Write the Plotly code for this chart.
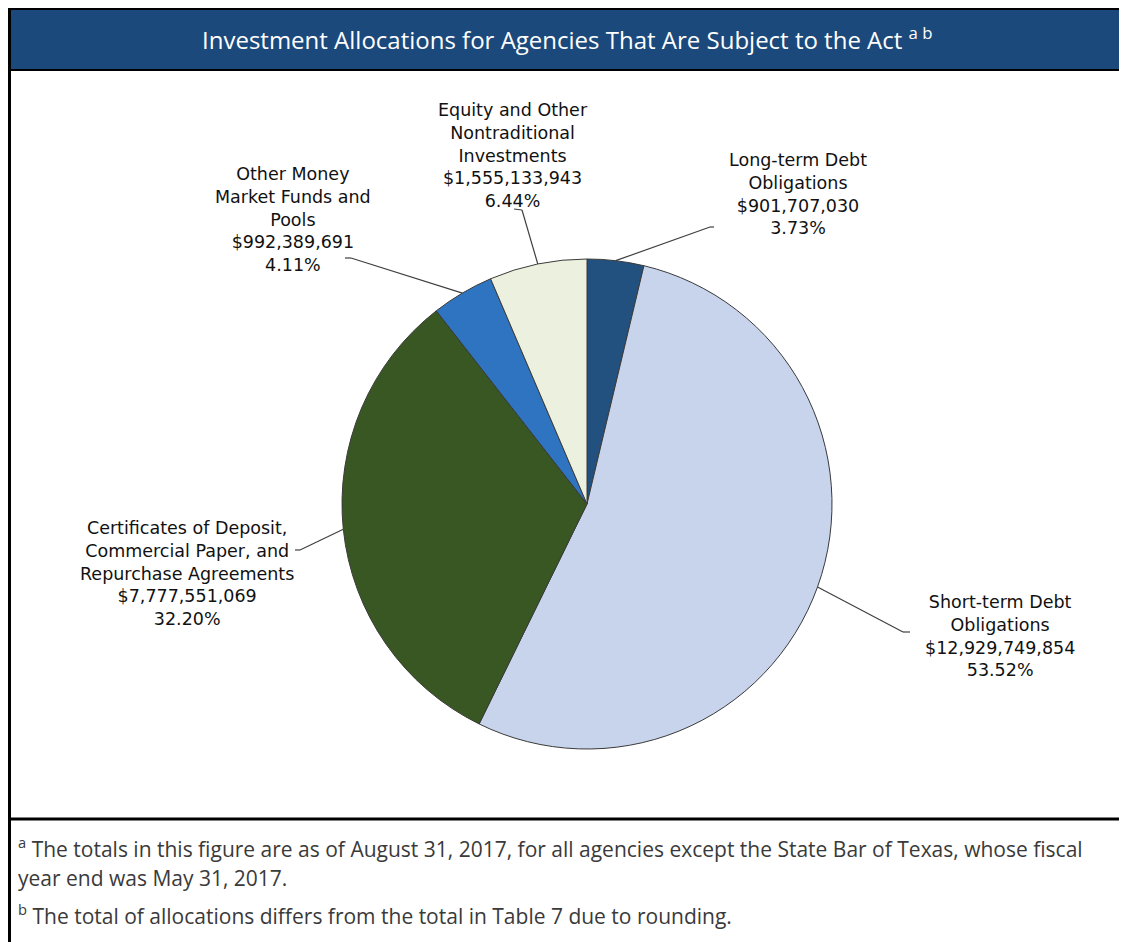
import math
import plotly.graph_objects as go

# ---------------- data ----------------
categories = [
    "Long-term Debt Obligations",
    "Short-term Debt Obligations",
    "Certificates of Deposit, Commercial Paper, and Repurchase Agreements",
    "Other Money Market Funds and Pools",
    "Equity and Other Nontraditional Investments",
]
label_lines = [
    "Long-term Debt<br>Obligations",
    "Short-term Debt<br>Obligations",
    "Certificates of Deposit,<br>Commercial Paper, and<br>Repurchase Agreements",
    "Other Money<br>Market Funds and<br>Pools",
    "Equity and Other<br>Nontraditional<br>Investments",
]
amounts = [901707030, 12929749854, 7777551069, 992389691, 1555133943]
percents = [3.73, 53.52, 32.20, 4.11, 6.44]

title_text = "Investment Allocations for Agencies That Are Subject to the Act"
footnote_a = ["The totals in this figure are as of August 31, 2017, for all agencies except the State Bar of Texas, whose fiscal",
              "year end was May 31, 2017."]
footnote_b = "The total of allocations differs from the total in Table 7 due to rounding."

# ---------------- styles / layout ----------------
colors = ["#22507f", "#c8d4eb", "#385723", "#2f74c0", "#ebf1de"]
OFF = 8                      # page body margin of the html page
W, H = 1127 - OFF, 942 - OFF  # figure size
cx, cy, R = 587, 504, 245    # pie centre / radius in page pixels

# label placement (page pixels): text centre, leader elbow, leader end
label_pos = [(798, 194), (1000, 636), (187, 573), (293, 220), (513, 156)]
elbows = [(710, 227), (903, 632), (300, 550), (351, 258), (522, 210)]
ends = [(714, 227), (910, 632), (295, 550), (345, 258), (514, 209)]


def px(x):
    return (x - OFF) / W


def py(y):
    return 1 - (y - OFF) / H


fig = go.Figure()
fig.add_trace(go.Pie(
    labels=categories,
    values=amounts,
    sort=False,
    direction="clockwise",
    rotation=0,
    textinfo="none",
    hoverinfo="label+value+percent",
    marker=dict(colors=colors, line=dict(color="#3a3a3a", width=1)),
    domain=dict(x=[px(cx - R), px(cx + R)], y=[py(cy + R), py(cy - R)]),
    showlegend=False,
))

shapes = []
annotations = []

# header bar and borders
shapes.append(dict(type="rect", xref="paper", yref="paper", x0=0, x1=1, y0=py(70), y1=1,
                   fillcolor="#1c497b", line=dict(width=0), layer="below"))
shapes.append(dict(type="line", xref="paper", yref="paper", x0=0, x1=1, y0=py(9), y1=py(9),
                   line=dict(color="#000000", width=2)))
shapes.append(dict(type="line", xref="paper", yref="paper", x0=0, x1=1, y0=py(70), y1=py(70),
                   line=dict(color="#000000", width=2)))
shapes.append(dict(type="line", xref="paper", yref="paper", x0=px(9.5), x1=px(9.5), y0=0, y1=1,
                   line=dict(color="#000000", width=3)))
shapes.append(dict(type="line", xref="paper", yref="paper", x0=0, x1=1, y0=py(819), y1=py(819),
                   line=dict(color="#000000", width=3)))

# leader lines from slice mid-angles
total = sum(amounts)
cum = 0
for i, v in enumerate(amounts):
    frac = (cum + v / 2) / total
    cum += v
    th = 2 * math.pi * frac
    ex, ey = cx + R * math.sin(th), cy - R * math.cos(th)
    bx, by = elbows[i]
    tx, ty = ends[i]
    for (x0, y0, x1, y1) in [(ex, ey, bx, by), (bx, by, tx, ty)]:
        shapes.append(dict(type="line", xref="paper", yref="paper",
                           x0=px(x0), y0=py(y0), x1=px(x1), y1=py(y1),
                           line=dict(color="#404040", width=1.2)))
    lx, ly = label_pos[i]
    annotations.append(dict(
        x=px(lx), y=py(ly), xref="paper", yref="paper", showarrow=False,
        xanchor="center", yanchor="middle", align="center",
        text=f"{label_lines[i]}<br>${amounts[i]:,}<br>{percents[i]:.2f}%",
        font=dict(family="DejaVu Sans", size=17.5, color="#111111"),
    ))

# title
annotations.append(dict(
    x=px(567), y=py(38), xref="paper", yref="paper", showarrow=False,
    xanchor="center", yanchor="middle",
    text=f"{title_text} <sup>a b</sup>",
    font=dict(family="Open Sans", size=24, color="#ffffff"),
))

# footnotes
fn_font = dict(family="Open Sans", size=21, color="#3a3a3a")
annotations.append(dict(x=px(16), y=py(847), xref="paper", yref="paper", showarrow=False,
                        xanchor="left", yanchor="middle", align="left",
                        text=f"<sup>a</sup> {footnote_a[0]}", font=fn_font))
annotations.append(dict(x=px(16), y=py(878), xref="paper", yref="paper", showarrow=False,
                        xanchor="left", yanchor="middle", align="left",
                        text=footnote_a[1], font=fn_font))
annotations.append(dict(x=px(16), y=py(914), xref="paper", yref="paper", showarrow=False,
                        xanchor="left", yanchor="middle", align="left",
                        text=f"<sup>b</sup> {footnote_b}", font=fn_font))

fig.update_layout(
    width=W, height=H,
    margin=dict(l=0, r=0, t=0, b=0),
    paper_bgcolor="#ffffff",
    plot_bgcolor="#ffffff",
    shapes=shapes,
    annotations=annotations,
)

fig.write_html("out.html")
